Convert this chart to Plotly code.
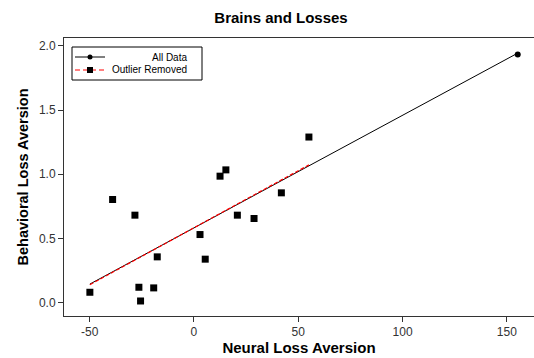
import numpy as np
import plotly.graph_objects as go

# Neural vs behavioral loss aversion per subject
neural = [-49.9, -39.0, -28.3, -26.4, -25.6, -19.3, -17.6, 2.9, 5.4,
          12.5, 15.3, 20.8, 28.8, 41.9, 55.1]
behavioral = [0.080, 0.803, 0.681, 0.119, 0.012, 0.114, 0.356, 0.530, 0.338,
              0.985, 1.034, 0.681, 0.655, 0.855, 1.290]
# The single outlying subject
outlier_neural = [155.2]
outlier_behavioral = [1.934]

x_ticks = [-50, 0, 50, 100, 150]
x_tick_text = ["-50", "0", "50", "100", "150"]
y_ticks = [0.0, 0.5, 1.0, 1.5, 2.0]
y_tick_text = ["0.0", "0.5", "1.0", "1.5", "2.0"]

all_x = np.array(neural + outlier_neural)
all_y = np.array(behavioral + outlier_behavioral)
sub_x = np.array(neural)
sub_y = np.array(behavioral)

# Least-squares fits, with and without the outlier
b_all = np.polyfit(all_x, all_y, 1)
b_sub = np.polyfit(sub_x, sub_y, 1)
fx_all = np.array([all_x.min(), all_x.max()])
fx_sub = np.array([sub_x.min(), sub_x.max()])

W, H = 534, 358
L, R, T, B = 64, 0, 38, 42
PW, PH = W - L - R, H - T - B


def px(x):
    return (x - L) / PW


def py(y):
    return (H - B - y) / PH


RED = "#ff0000"

fig = go.Figure()

fig.add_trace(go.Scatter(
    x=fx_all, y=np.polyval(b_all, fx_all), mode="lines",
    line=dict(color="black", width=1), showlegend=False, hoverinfo="skip"))
fig.add_trace(go.Scatter(
    x=fx_sub, y=np.polyval(b_sub, fx_sub), mode="lines",
    line=dict(color=RED, width=1.2, dash="4px,2px"), showlegend=False,
    hoverinfo="skip"))
fig.add_trace(go.Scatter(
    x=outlier_neural, y=outlier_behavioral, mode="markers",
    marker=dict(symbol="circle", size=6, color="black"), showlegend=False))
fig.add_trace(go.Scatter(
    x=neural, y=behavioral, mode="markers",
    marker=dict(symbol="square", size=7, color="black"), showlegend=False))

# Legend box drawn in plot-area coordinates
shapes = [
    dict(type="rect", xref="paper", yref="paper",
         x0=px(72), x1=px(202), y0=py(80), y1=py(47),
         line=dict(color="black", width=1), fillcolor="white", layer="above"),
    dict(type="line", xref="paper", yref="paper",
         x0=px(75), x1=px(105), y0=py(57), y1=py(57),
         line=dict(color="black", width=1), layer="above"),
    dict(type="circle", xref="paper", yref="paper",
         x0=px(87.5), x1=px(92.5), y0=py(59.5), y1=py(54.5),
         line=dict(color="black", width=0), fillcolor="black", layer="above"),
    dict(type="line", xref="paper", yref="paper",
         x0=px(75), x1=px(105), y0=py(70), y1=py(70),
         line=dict(color=RED, width=1, dash="5px,3px"), layer="above"),
    dict(type="rect", xref="paper", yref="paper",
         x0=px(87), x1=px(93), y0=py(73), y1=py(67),
         line=dict(color="black", width=0), fillcolor="black", layer="above"),
]
annotations = [
    dict(text="All Data", xref="paper", yref="paper", x=px(189), y=py(57),
         xanchor="right", yanchor="middle", showarrow=False,
         font=dict(size=10, color="black")),
    dict(text="Outlier Removed", xref="paper", yref="paper", x=px(189),
         y=py(70), xanchor="right", yanchor="middle", showarrow=False,
         font=dict(size=10, color="black")),
]

axis_common = dict(
    showgrid=False, zeroline=False, showline=True, linecolor="#333333",
    linewidth=1, ticks="outside", ticklen=5, tickcolor="#333333",
    tickfont=dict(size=12, color="#333333"),
)

fig.update_layout(
    width=W, height=H,
    margin=dict(l=L, r=R, t=T, b=B),
    paper_bgcolor="white", plot_bgcolor="white",
    font=dict(family="Liberation Sans, Arial, sans-serif", color="black"),
    title=dict(text="<b>Brains and Losses</b>", x=281 / W, xanchor="center",
               xref="container", y=1 - 18 / H, yanchor="middle",
               yref="container", font=dict(size=15, color="black")),
    xaxis=dict(range=[-62.3, 163.0], tickvals=x_ticks, ticktext=x_tick_text,
               mirror=True,
               title=dict(text="<b>Neural Loss Aversion</b>",
                          font=dict(size=15, color="black"), standoff=2),
               **axis_common),
    yaxis=dict(range=[-0.105, 2.062], tickvals=y_ticks, ticktext=y_tick_text,
               title=dict(text="<b>Behavioral Loss Aversion</b>",
                          font=dict(size=14.5, color="black"), standoff=6),
               **axis_common),
    shapes=shapes, annotations=annotations, showlegend=False,
)

fig.write_html("out.html")
